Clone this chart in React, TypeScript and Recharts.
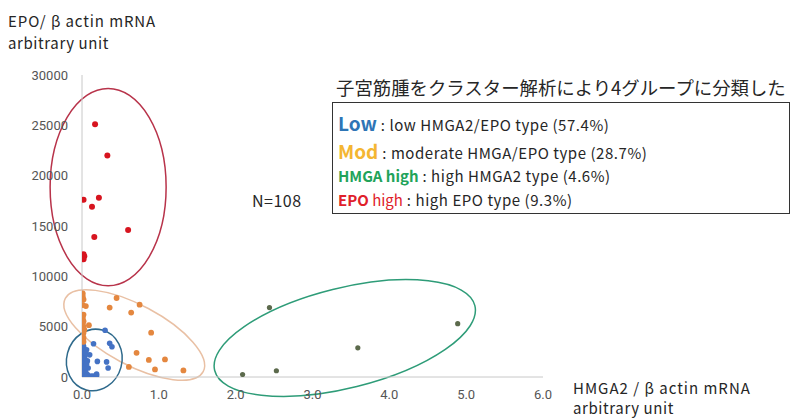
import React from 'react';
import { ScatterChart, Scatter, XAxis, YAxis, ReferenceArea } from 'recharts';

// ---- data ----
const xTicks = [0, 1, 2, 3, 4, 5, 6];
const yTicks = [0, 5000, 10000, 15000, 20000, 25000, 30000];

const epoHighX = [0.17, 0.33, 0.02, 0.22, 0.13, 0.60, 0.16, 0.02, 0.03, 0.02];
const epoHighY = [25100, 22000, 17600, 17800, 16900, 14600, 13900, 12200, 12000, 11700];

const hmgaHighX = [2.44, 2.09, 2.53, 3.59, 4.89];
const hmgaHighY = [6900, 250, 620, 2900, 5300];

const modX = [0.45, 0.75, 0.36, 0.64, 0.90, 0.71, 0.87, 1.08, 0.61, 0.95, 1.32, 0.05, 0.09,
  0.01, 0.01, 0.02, 0.01, 0.02, 0.01, 0.01, 0.02, 0.01, 0.02, 0.01, 0.01, 0.02, 0.01, 0.02, 0.01, 0.02, 0.03];
const modY = [7850, 7180, 6900, 6400, 4400, 2400, 1700, 1750, 1000, 750, 650, 7050, 5150,
  8300, 8000, 7700, 7150, 6200, 6000, 5800, 5550, 5300, 5000, 4850, 4600, 4400, 4100, 3900, 3700, 3500, 4700];

const lowX = [0.00, 0.02, 0.04, 0.01, 0.03, 0.05, 0.00, 0.02, 0.04, 0.01, 0.03, 0.05, 0.00, 0.02, 0.04,
  0.01, 0.03, 0.05, 0.00, 0.02, 0.04, 0.01, 0.03, 0.00, 0.02, 0.04, 0.01, 0.03, 0.00, 0.02, 0.01, 0.03,
  0.00, 0.02, 0.01, 0.00, 0.02, 0.01, 0.00, 0.01,
  0.06, 0.09, 0.12, 0.15, 0.19, 0.07, 0.08, 0.07, 0.10, 0.06,
  0.30, 0.15, 0.36, 0.39, 0.20, 0.32, 0.34, 0.19,
  0.05, 0.04, 0.06, 0.05];
const lowY = [50, 120, 200, 300, 380, 450, 550, 620, 700, 800, 880, 950, 1050, 1120, 1200,
  1300, 1380, 1450, 1550, 1620, 1700, 1800, 1880, 1950, 2050, 2120, 2200, 2300, 2380, 2450, 2550, 2620,
  2700, 2800, 2880, 2950, 3050, 3150, 3250, 3350,
  80, 60, 100, 90, 140, 250, 900, 1600, 2200, 2700,
  4650, 3300, 3350, 3000, 1550, 1500, 900, 300,
  50, 1000, 1300, 2350];

// ellipses: center x, center y, half-width (x units), half-height (y units), rotation (deg)
const ellipseNames = ['epo', 'mod', 'low', 'hmga'];
const ellipseCX = [0.34, 0.68, 0.16, 3.42];
const ellipseCY = [18870, 4170, 1690, 3870];
const ellipseRX = [0.755, 1.016, 0.36, 1.745];
const ellipseRY = [9800, 2980, 3080, 4965];
const ellipseRot = [0, 28, 15, -14];
const ellipseColor = ['#b8334a', '#e9c0a4', '#2f6a8c', '#2e9c78'];

const toPoints = (xs: number[], ys: number[]) => xs.map((x, i) => ({ x, y: ys[i] }));
const epoHigh = toPoints(epoHighX, epoHighY);
const hmgaHigh = toPoints(hmgaHighX, hmgaHighY);
const mod = toPoints(modX, modY);
const low = toPoints(lowX, lowY);

const dot = (color: string, r: number) => (p: any) => (
  <circle cx={p.cx} cy={p.cy} r={r} fill={color} />
);

const ellipseShape = (rot: number, color: string) => (p: any) => {
  const w = Math.abs(p.width);
  const h = Math.abs(p.height);
  const x0 = Math.min(p.x, p.x + p.width);
  const y0 = Math.min(p.y, p.y + p.height);
  const cx = x0 + w / 2;
  const cy = y0 + h / 2;
  return (
    <ellipse cx={cx} cy={cy} rx={w / 2} ry={h / 2} fill="none" stroke={color} strokeWidth={1.5}
      transform={`rotate(${rot} ${cx} ${cy})`} />
  );
};

const txt: React.CSSProperties = { position: 'absolute', whiteSpace: 'nowrap', color: '#262626', lineHeight: 1 };
const jp = '"Noto Sans CJK JP", "Noto Sans", sans-serif';

export default function App() {
  return (
    <div style={{ position: 'absolute', left: 0, top: 0, width: 791, height: 418, background: '#fff', overflow: 'hidden', fontFamily: jp }}>
      <ScatterChart width={791} height={418} margin={{ top: 75, right: 248, bottom: 11, left: 0 }}>
        <XAxis type="number" dataKey="x" domain={[0, 6]} ticks={xTicks} tickFormatter={(v: number) => v.toFixed(1)}
          axisLine={{ stroke: '#c8c8c8' }} tickLine={false} tickMargin={7} height={30}
          tick={{ fill: '#555', fontSize: 13, fontFamily: 'Roboto, sans-serif' }} allowDataOverflow />
        <YAxis type="number" dataKey="y" domain={[0, 30000]} ticks={yTicks} width={82}
          axisLine={{ stroke: '#c8c8c8' }} tickLine={false} tickMargin={8}
          tick={{ fill: '#555', fontSize: 13, fontFamily: 'Roboto, sans-serif' }} allowDataOverflow />
        {ellipseNames.map((n, i) => (
          <ReferenceArea key={n} x1={ellipseCX[i] - ellipseRX[i]} x2={ellipseCX[i] + ellipseRX[i]}
            y1={ellipseCY[i] - ellipseRY[i]} y2={ellipseCY[i] + ellipseRY[i]} ifOverflow="visible"
            shape={ellipseShape(ellipseRot[i], ellipseColor[i])} />
        ))}
        <Scatter name="Low" data={low} isAnimationActive={false} shape={dot('#4472c4', 2.8)} />
        <Scatter name="Mod" data={mod} isAnimationActive={false} shape={dot('#e4873f', 2.9)} />
        <Scatter name="HMGA high" data={hmgaHigh} isAnimationActive={false} shape={dot('#5c6a4c', 2.6)} />
        <Scatter name="EPO high" data={epoHigh} isAnimationActive={false} shape={dot('#d7141f', 3)} />
      </ScatterChart>

      <div style={{ ...txt, left: 8, top: 13, fontSize: 15, letterSpacing: 0.9 }}>EPO/ β actin mRNA</div>
      <div style={{ ...txt, left: 8, top: 35, fontSize: 15, letterSpacing: 0.6 }}>arbitrary unit</div>

      <div style={{ ...txt, left: 573, top: 380, fontSize: 15, letterSpacing: 1.0 }}>HMGA2 / β actin mRNA</div>
      <div style={{ ...txt, left: 573, top: 400, fontSize: 15, letterSpacing: 0.6 }}>arbitrary unit</div>

      <div style={{ ...txt, left: 252, top: 192, fontSize: 16, letterSpacing: 0.5 }}>N=108</div>

      <div style={{ ...txt, left: 336, top: 78, fontSize: 18.4 }}>子宮筋腫をクラスター解析により4グループに分類した</div>

      <div style={{ position: 'absolute', left: 332, top: 102, width: 456, height: 110, border: '1px solid #333' }} />
      <div style={{ ...txt, left: 338, top: 113, fontSize: 15, letterSpacing: 0.55 }}>
        <span style={{ color: '#2e75b6', fontSize: 19, fontWeight: 700, letterSpacing: 0 }}>Low</span> : low HMGA2/EPO type (57.4%)
      </div>
      <div style={{ ...txt, left: 338, top: 141, fontSize: 15, letterSpacing: 0.55 }}>
        <span style={{ color: '#f4b632', fontSize: 19, fontWeight: 700, letterSpacing: 0 }}>Mod</span> : moderate HMGA/EPO type (28.7%)
      </div>
      <div style={{ ...txt, left: 338, top: 168, fontSize: 15, letterSpacing: 0.55 }}>
        <span style={{ color: '#22a35a', fontSize: 15, fontWeight: 700, letterSpacing: 0 }}>HMGA high</span> : high HMGA2 type (4.6%)
      </div>
      <div style={{ ...txt, left: 338, top: 192, fontSize: 15, letterSpacing: 0.55 }}>
        <span style={{ color: '#e0202a', fontSize: 15, fontWeight: 700, letterSpacing: 0 }}>EPO</span>
        <span style={{ color: '#e0202a', fontSize: 15, letterSpacing: 0 }}> high</span> : high EPO type (9.3%)
      </div>
    </div>
  );
}
